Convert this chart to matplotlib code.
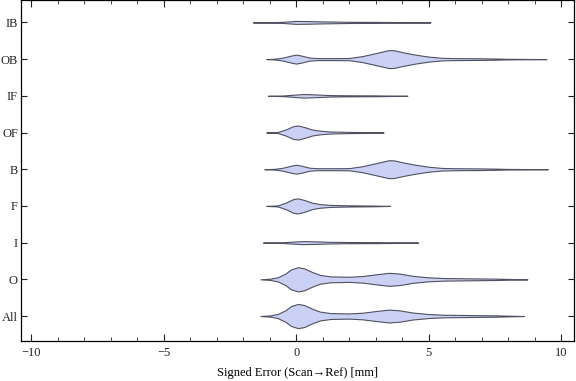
import matplotlib
matplotlib.use("Agg")
import matplotlib.pyplot as plt
import numpy as np

# categories, bottom to top
labels = ["All", "O", "I", "F", "B", "OF", "IF", "OB", "IB"]

# violin outlines: error value (mm) and half-width (row units)
x_all = [-1.35, -1.0, -0.7, -0.4, -0.2, 0.07, 0.3, 0.6, 0.9, 1.3, 2.0, 2.5, 3.0, 3.5, 3.9, 4.4, 5.0, 5.6, 6.5, 7.5, 8.1, 8.6]
w_all = [0, 0.016, 0.055, 0.16, 0.27, 0.33, 0.30, 0.20, 0.12, 0.08, 0.07, 0.09, 0.135, 0.175, 0.155, 0.095, 0.054, 0.035, 0.027, 0.019, 0.008, 0]

x_o = [-1.35, -1.0, -0.7, -0.4, -0.2, 0.07, 0.3, 0.6, 0.9, 1.3, 2.0, 2.5, 3.0, 3.5, 3.9, 4.4, 5.0, 5.6, 6.5, 7.5, 8.2, 8.73]
w_o = [0, 0.016, 0.055, 0.16, 0.27, 0.33, 0.30, 0.20, 0.12, 0.08, 0.07, 0.09, 0.135, 0.177, 0.157, 0.095, 0.054, 0.035, 0.027, 0.019, 0.008, 0]

x_i = [-1.25, -0.5, 0.0, 0.3, 0.7, 1.3, 2.0, 3.0, 4.0, 4.6]
w_i = [0, 0.011, 0.033, 0.041, 0.035, 0.022, 0.016, 0.014, 0.008, 0]

x_f = [-1.13, -0.7, -0.4, -0.1, 0.07, 0.3, 0.6, 0.9, 1.3, 2.0, 2.8, 3.55]
w_f = [0, 0.014, 0.087, 0.19, 0.204, 0.163, 0.087, 0.049, 0.027, 0.016, 0.011, 0]

x_b = [-1.2, -0.8, -0.5, -0.2, 0.0, 0.2, 0.5, 0.8, 1.5, 2.0, 2.5, 3.0, 3.5, 3.7, 4.0, 4.5, 5.0, 5.5, 6.0, 7.0, 7.5, 8.0, 9.0, 9.5]
w_b = [0, 0.011, 0.041, 0.095, 0.122, 0.095, 0.041, 0.027, 0.027, 0.03, 0.082, 0.163, 0.245, 0.24, 0.19, 0.122, 0.068, 0.035, 0.027, 0.022, 0.016, 0.008, 0.003, 0]

x_of = [-1.13, -0.7, -0.4, -0.1, 0.07, 0.3, 0.6, 0.9, 1.3, 2.0, 2.7, 3.3]
w_of = [0, 0.014, 0.082, 0.177, 0.19, 0.15, 0.082, 0.049, 0.027, 0.016, 0.011, 0]

x_if = [-1.06, -0.5, 0.0, 0.3, 0.7, 1.3, 2.0, 3.0, 4.2]
w_if = [0, 0.008, 0.035, 0.049, 0.038, 0.019, 0.014, 0.011, 0]

x_ob = [-1.13, -0.8, -0.5, -0.2, 0.0, 0.2, 0.5, 0.8, 1.5, 2.0, 2.5, 3.0, 3.5, 3.7, 4.0, 4.5, 5.0, 5.5, 6.0, 7.0, 7.5, 8.0, 9.0, 9.45]
w_ob = [0, 0.011, 0.041, 0.095, 0.122, 0.095, 0.041, 0.027, 0.027, 0.03, 0.082, 0.163, 0.245, 0.24, 0.19, 0.122, 0.068, 0.035, 0.027, 0.022, 0.016, 0.008, 0.003, 0]

x_ib = [-1.63, -1.0, -0.5, 0.0, 0.5, 1.0, 2.0, 3.0, 4.0, 5.07]
w_ib = [0, 0.003, 0.016, 0.04, 0.035, 0.027, 0.016, 0.014, 0.008, 0]

profiles = [(x_all, w_all), (x_o, w_o), (x_i, w_i), (x_f, w_f), (x_b, w_b),
            (x_of, w_of), (x_if, w_if), (x_ob, w_ob), (x_ib, w_ib)]

serif = ["Liberation Serif", "DejaVu Serif"]
plt.rcParams['font.family'] = serif

fig = plt.figure(figsize=(5.76, 3.81), dpi=100)
ax = fig.add_axes([0.036, 0.105, 0.961, 0.894])

for i, (xs, ws) in enumerate(profiles):
    pos = i + 1
    xs = np.array(xs)
    ws = np.array(ws)
    ax.fill_between(xs, pos - ws, pos + ws, facecolor="#cbd1f4",
                    edgecolor="#4f5060", linewidth=0.8)

ax.set_xlim(-10.4, 10.5)
ax.set_ylim(0.32, 9.6)
ax.set_xticks([-10, -5, 0, 5, 10])
ax.set_xticklabels(["\u221210", "\u22125", "0", "5", "10"])
ax.set_xticks(np.arange(-10, 11, 1), minor=True)
ax.set_yticks(range(1, len(labels) + 1))
ax.set_yticklabels(labels)
ax.tick_params(axis="both", which="both", direction="in", top=True, right=True,
               labelsize=9, colors="#222222")
ax.tick_params(axis="x", which="major", length=5, width=0.8, pad=4)
ax.tick_params(axis="x", which="minor", length=2.8, width=0.6)
ax.tick_params(axis="y", which="major", length=4, width=0.8, pad=2)
for s in ax.spines.values():
    s.set_linewidth(0.9)
ax.set_xlabel("Signed Error (Scan\u2192Ref) [mm]", fontsize=9, labelpad=6)

fig.savefig("out.png", dpi=100)
